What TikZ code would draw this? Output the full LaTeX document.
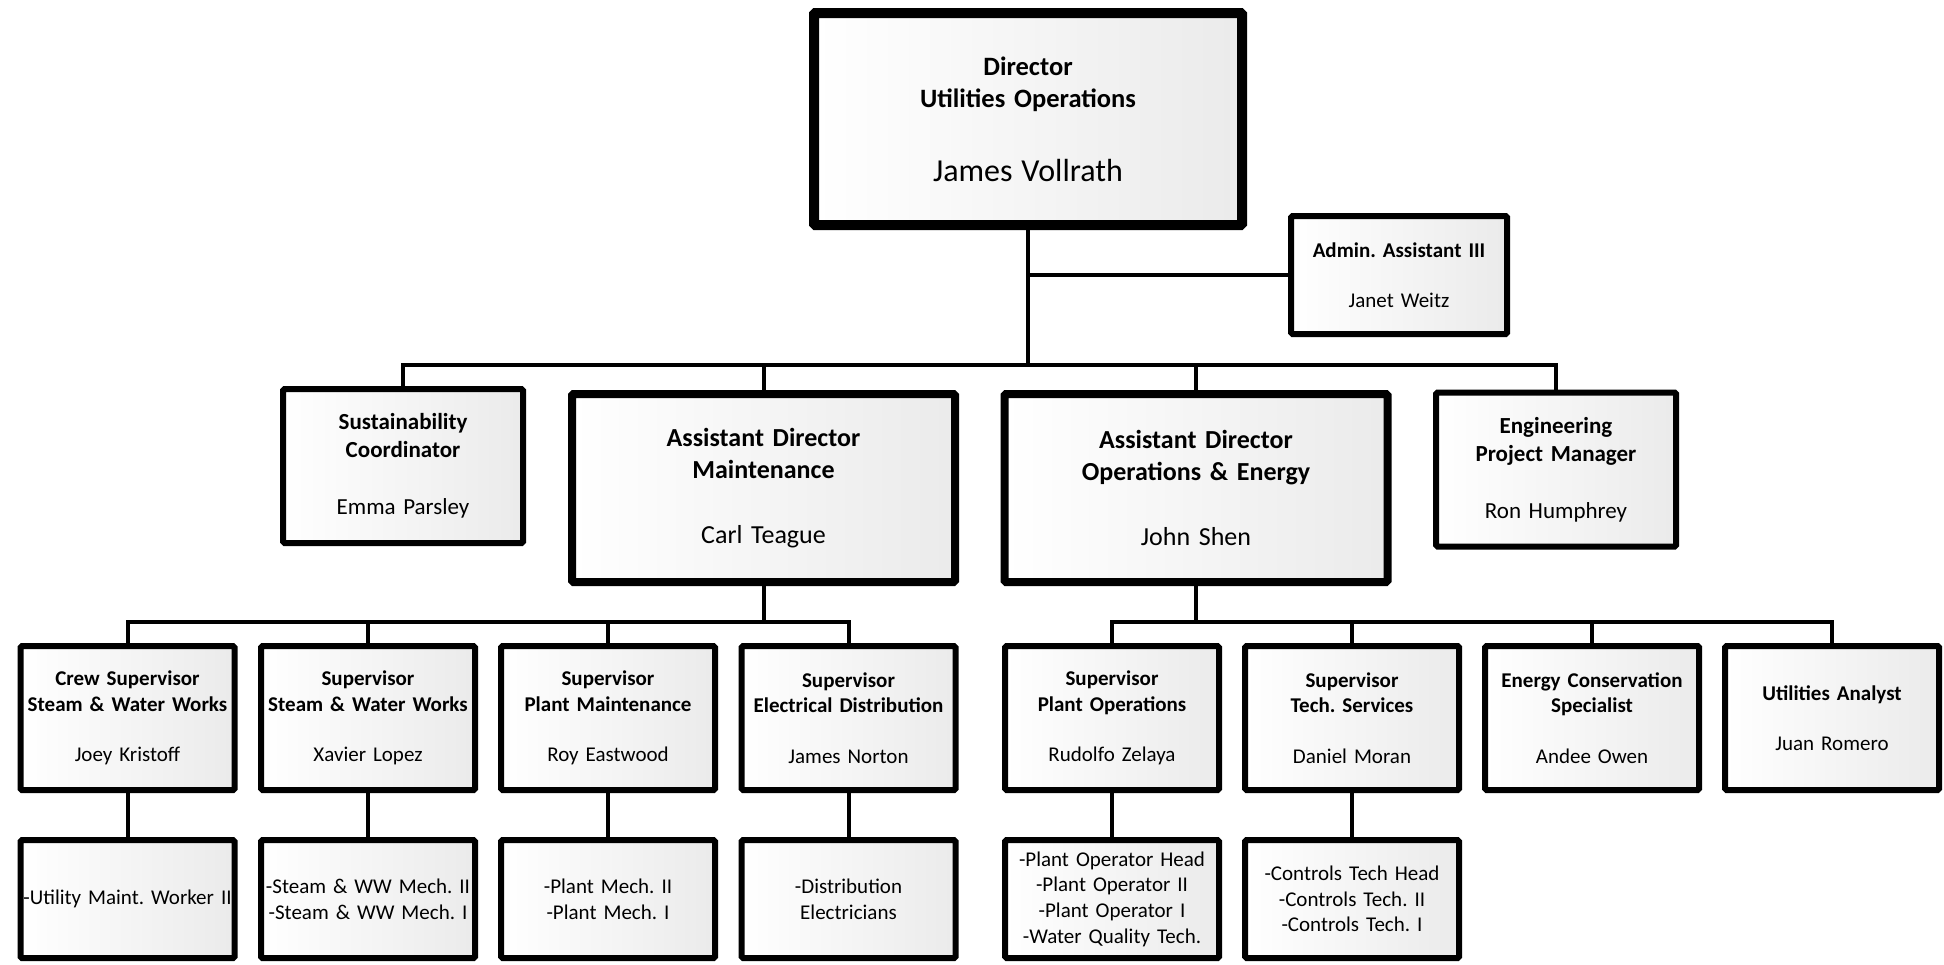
\documentclass[tikz,border=0pt]{standalone}
\usepackage{fontspec}
\setmainfont{Carlito}
\frenchspacing
\usetikzlibrary{calc}

\tikzset{
  card/.style={draw, line width=6pt, rounded corners=1.5pt, left color=white, right color=black!8, inner sep=0pt, align=center},
  head/.style={card, line width=10pt, minimum width=428pt, minimum height=212pt, text width=420pt, font=\fontsize{26.5}{32.3}\selectfont\bfseries},
  lead/.style={card, line width=8pt, minimum width=383pt, minimum height=188pt, text width=375pt, font=\fontsize{26}{31.5}\selectfont\bfseries},
  side/.style={card, minimum width=240pt, minimum height=154pt, text width=234pt, font=\fontsize{23}{28}\selectfont\bfseries},
  aide/.style={card, minimum width=216pt, minimum height=118pt, text width=212pt, font=\fontsize{21}{25.6}\selectfont\bfseries},
  staff/.style={card, minimum width=214pt, minimum height=144pt, text width=212pt, font=\fontsize{21}{25.6}\selectfont\bfseries},
  crew/.style={card, minimum width=214pt, minimum height=118pt, text width=212pt, font=\fontsize{21}{25.6}\selectfont},
  link/.style={line width=4pt}
}

\begin{document}
\begin{tikzpicture}[x=1pt, y=-1pt]
  \useasboundingbox (0,0) rectangle (1944,964);

  % top
  \node[head] (dir) at (1028,119) {Director\\Utilities Operations\\[41.7pt]{\mdseries\fontsize{32}{39}\selectfont James Vollrath}};
  \node[aide] (admin) at (1399,275) {Admin. Assistant III\\[24.4pt]\mdseries Janet Weitz};

  % second row
  \node[side] (sust) at (403,466) {Sustainability\\Coordinator\\[29pt]\mdseries Emma Parsley};
  \node[lead] (adm) at (763.5,488) {Assistant Director\\Maintenance\\[33.5pt]\mdseries Carl Teague};
  \node[lead] (ado) at (1196,488) {Assistant Director\\Operations \& Energy\\[33.5pt]\mdseries John Shen};
  \node[side] (eng) at (1556,469.5) {Engineering\\Project Manager\\[29pt]\mdseries Ron Humphrey};

  % supervisors
  \node[staff] (s1) at (127.5,718) {Crew Supervisor\\Steam \& Water Works\\[25pt]\mdseries Joey Kristoff};
  \node[staff] (s2) at (368,718) {Supervisor\\Steam \& Water Works\\[25pt]\mdseries Xavier Lopez};
  \node[staff] (s3) at (608,718) {Supervisor\\Plant Maintenance\\[25pt]\mdseries Roy Eastwood};
  \node[staff] (s4) at (848.5,718) {Supervisor\\Electrical Distribution\\[25pt]\mdseries James Norton};
  \node[staff] (s5) at (1112,718) {Supervisor\\Plant Operations\\[25pt]\mdseries Rudolfo Zelaya};
  \node[staff] (s6) at (1352,718) {Supervisor\\Tech. Services\\[25pt]\mdseries Daniel Moran};
  \node[staff] (s7) at (1592,718) {Energy Conservation\\Specialist\\[25pt]\mdseries Andee Owen};
  \node[staff] (s8) at (1832,718) {Utilities Analyst\\[25pt]\mdseries Juan Romero};

  % crews
  \node[crew] (t1) at (127.5,899) {-Utility Maint. Worker II};
  \node[crew] (t2) at (368,899) {-Steam \& WW Mech. II\\-Steam \& WW Mech. I};
  \node[crew] (t3) at (608,899) {-Plant Mech. II\\-Plant Mech. I};
  \node[crew] (t4) at (848.5,899) {-Distribution\\Electricians};
  \node[crew] (t5) at (1112,899) {-Plant Operator Head\\-Plant Operator II\\-Plant Operator I\\-Water Quality Tech.};
  \node[crew] (t6) at (1352,899) {-Controls Tech Head\\-Controls Tech. II\\-Controls Tech. I};

  % connectors
  \coordinate (bus1) at (0,365);
  \coordinate (bus2) at (0,622);
  \draw[link] (dir.south) -- (dir.south |- bus1);
  \draw[link] (admin.west) -- (admin.west -| dir.south);
  \draw[link] (sust.north) |- (eng.north |- bus1) -- (eng.north);
  \draw[link] (adm.north) -- (adm.north |- bus1);
  \draw[link] (ado.north) -- (ado.north |- bus1);

  \draw[link] (adm.south) -- (adm.south |- bus2);
  \draw[link] (s1.north) |- (s4.north |- bus2) -- (s4.north);
  \draw[link] (s2.north) -- (s2.north |- bus2);
  \draw[link] (s3.north) -- (s3.north |- bus2);
  \draw[link] (ado.south) -- (ado.south |- bus2);
  \draw[link] (s5.north) |- (s8.north |- bus2) -- (s8.north);
  \draw[link] (s6.north) -- (s6.north |- bus2);
  \draw[link] (s7.north) -- (s7.north |- bus2);

  \foreach \i in {1,...,6}
    \draw[link] (s\i) -- (t\i);
\end{tikzpicture}
\end{document}
